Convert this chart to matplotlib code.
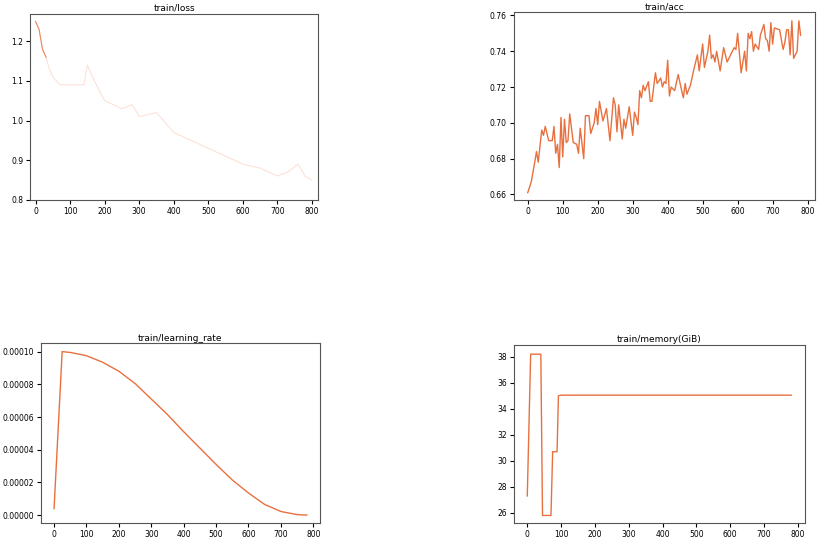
import matplotlib
matplotlib.use("Agg")
import matplotlib.pyplot as plt

color = "#e8703f"

loss_steps = [0,10,20,30,40,50,70,100,140,150,170,200,250,280,300,350,400,450,500,550,600,650,700,730,760,780,800]
loss_vals = [1.25,1.23,1.18,1.16,1.13,1.11,1.09,1.09,1.09,1.14,1.10,1.05,1.03,1.04,1.01,1.02,0.97,0.95,0.93,0.91,0.89,0.88,0.86,0.87,0.89,0.86,0.85]

acc_steps = [0,10,20,25,30,40,45,50,60,70,75,80,85,90,95,100,105,110,115,120,130,140,145,150,160,165,175,180,190,195,200,205,215,225,235,245,250,255,260,270,275,280,290,300,305,310,315,320,325,330,335,345,350,355,365,370,380,385,390,395,400,405,410,420,430,440,445,450,455,465,475,485,490,500,505,515,520,525,530,535,540,550,560,570,580,590,595,600,610,620,625,630,635,640,645,650,660,665,675,680,685,690,695,700,705,720,730,735,740,745,750,755,760,770,775,780]
acc_vals = [0.661,0.667,0.678,0.684,0.678,0.696,0.693,0.698,0.690,0.690,0.698,0.683,0.688,0.675,0.703,0.681,0.702,0.689,0.690,0.705,0.689,0.688,0.683,0.697,0.680,0.704,0.704,0.694,0.700,0.708,0.699,0.712,0.701,0.708,0.690,0.714,0.710,0.695,0.710,0.691,0.702,0.697,0.709,0.693,0.706,0.703,0.699,0.718,0.714,0.721,0.718,0.723,0.712,0.712,0.728,0.722,0.725,0.720,0.723,0.722,0.735,0.715,0.720,0.718,0.727,0.718,0.714,0.722,0.716,0.721,0.730,0.738,0.729,0.744,0.731,0.740,0.749,0.736,0.738,0.734,0.740,0.729,0.742,0.734,0.738,0.742,0.741,0.750,0.728,0.740,0.729,0.750,0.747,0.751,0.740,0.744,0.741,0.749,0.755,0.747,0.746,0.740,0.756,0.744,0.753,0.752,0.741,0.745,0.752,0.752,0.738,0.757,0.736,0.740,0.757,0.749]

lr_steps = [0,25,50,100,150,200,250,300,350,400,450,500,550,600,650,700,750,780]
lr_vals = [0.000004,0.0001,0.0000995,0.0000975,0.0000935,0.000088,0.0000805,0.000071,0.0000615,0.000051,0.000041,0.000031,0.0000215,0.0000135,0.0000065,0.0000022,0.0000003,0.0]

mem_steps = [0,10,40,45,70,75,88,92,100,780]
mem_vals = [27.3,38.2,38.2,25.8,25.8,30.7,30.7,35.0,35.05,35.05]

fig = plt.figure(figsize=(8.22,5.4), dpi=100)

def style(ax, title):
    ax.set_title(title, fontsize=6.5, pad=2)
    ax.tick_params(labelsize=5.5, length=3, pad=2)
    for s in ax.spines.values():
        s.set_color("#555555")

ax1 = fig.add_axes([0.037,0.63,0.35,0.345])
ax1.plot(loss_steps, loss_vals, color=color, lw=0.8, alpha=0.2)
ax1.plot(loss_steps[:4], loss_vals[:4], color=color, lw=0.8, alpha=0.8)
ax1.set_ylim(0.8,1.27)
ax1.set_xlim(-15,818)
ax1.set_yticks([0.8,0.9,1.0,1.1,1.2])
style(ax1,"train/loss")

ax2 = fig.add_axes([0.625,0.63,0.366,0.348])
ax2.plot(acc_steps, acc_vals, color=color, lw=1.0)
ax2.set_ylim(0.657,0.762)
ax2.set_xlim(-40,820)
style(ax2,"train/acc")

ax3 = fig.add_axes([0.05,0.031,0.339,0.333])
ax3.plot(lr_steps, lr_vals, color=color, lw=1.0)
ax3.set_xlim(-40,820)
ax3.set_ylim(-0.000005,0.000105)
ax3.yaxis.set_major_formatter(matplotlib.ticker.FormatStrFormatter('%.5f'))
style(ax3,"train/learning_rate")

ax4 = fig.add_axes([0.625,0.031,0.354,0.33])
ax4.plot(mem_steps, mem_vals, color=color, lw=1.0)
ax4.set_xlim(-40,820)
ax4.set_ylim(25.2,38.9)
style(ax4,"train/memory(GiB)")

fig.savefig("out.png", dpi=100)
